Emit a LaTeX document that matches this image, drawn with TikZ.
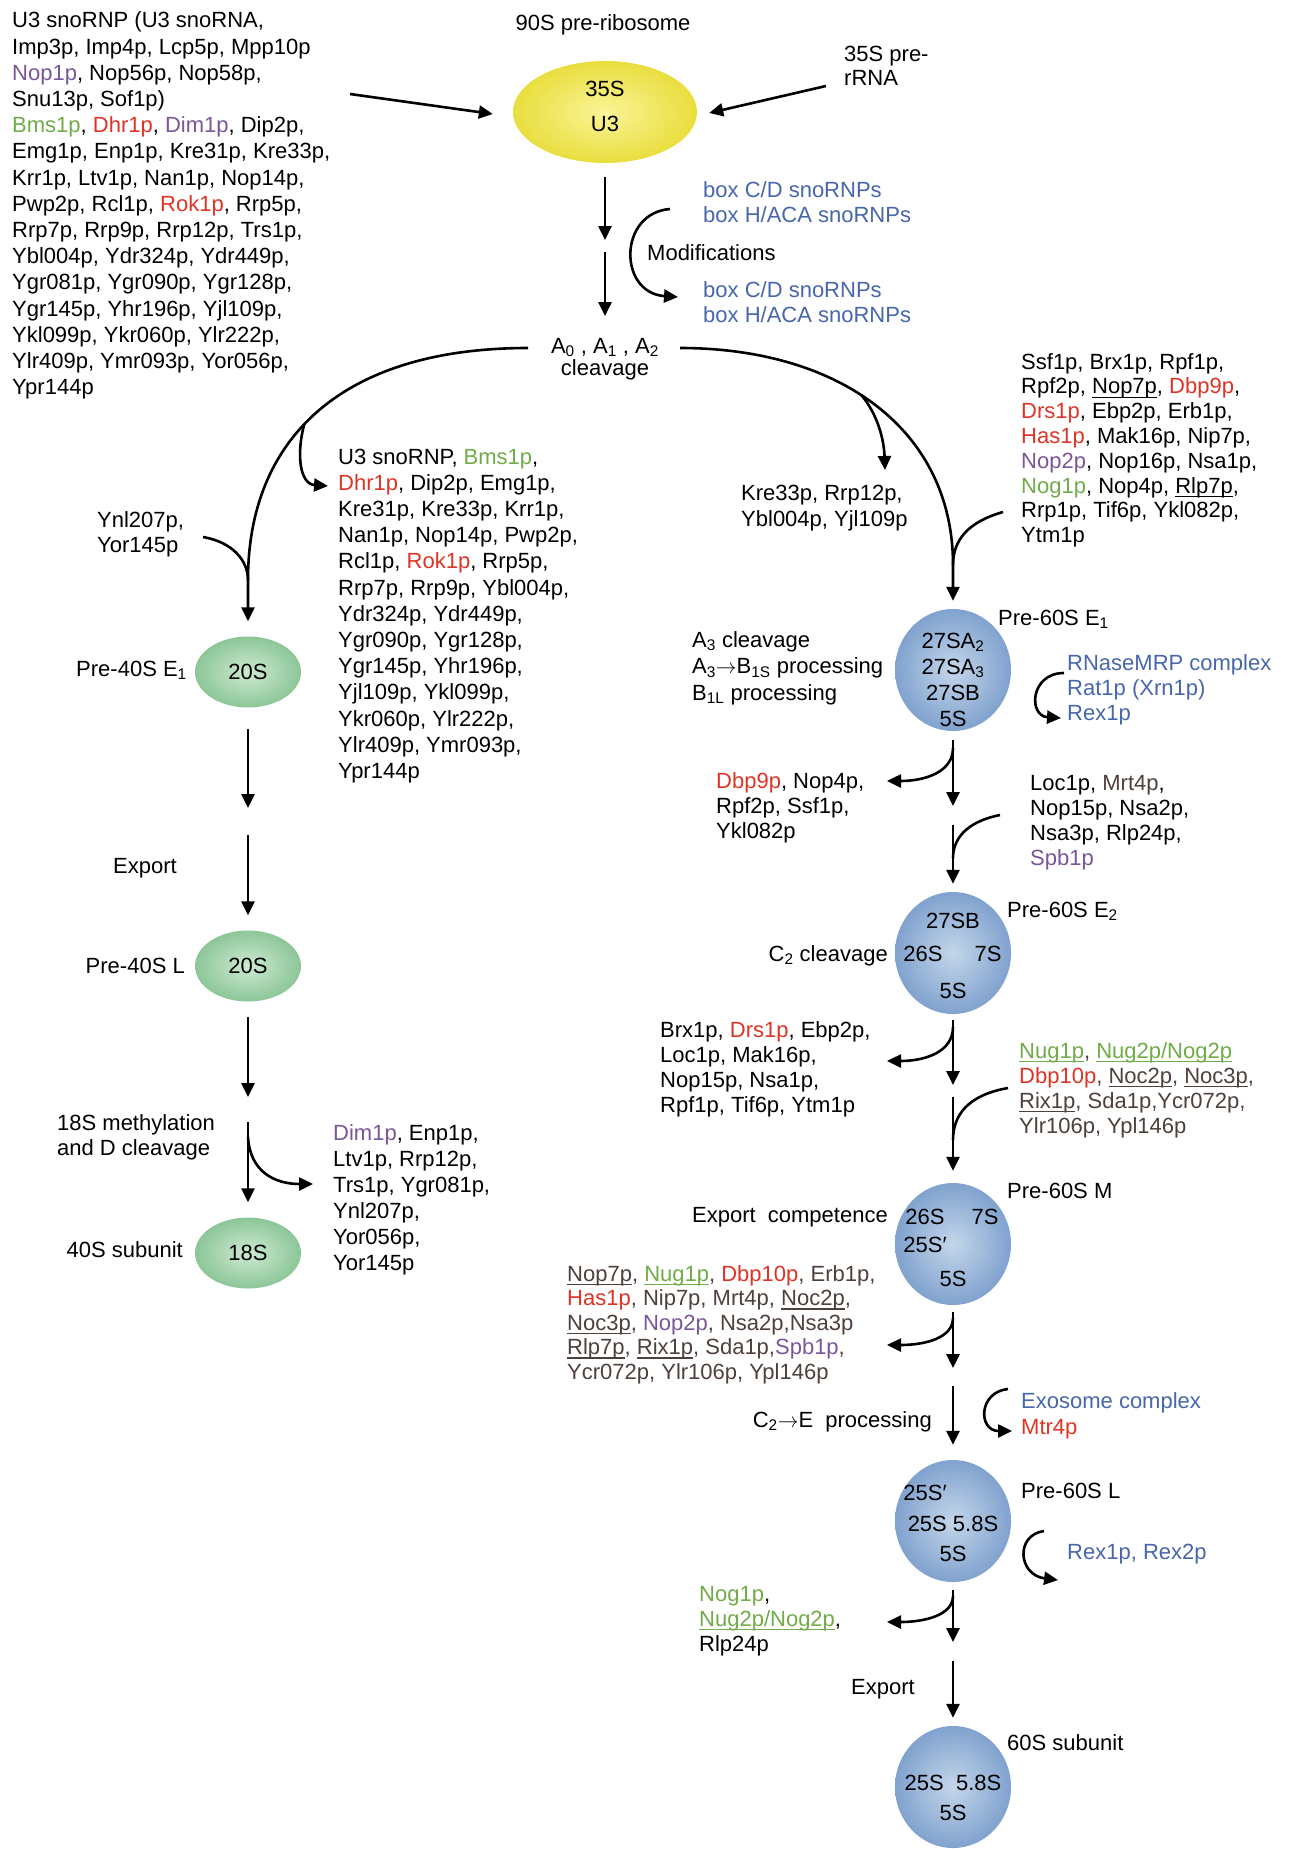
\documentclass[tikz,border=0pt]{standalone}
\usepackage{fontspec}
\setmainfont{Liberation Sans}
\usetikzlibrary{arrows.meta,shapes.geometric,calc}

\definecolor{cred}{RGB}{222,52,38}
\definecolor{cgrn}{RGB}{112,172,72}
\definecolor{cpur}{RGB}{122,86,152}
\definecolor{cblu}{RGB}{72,102,172}
\definecolor{cbrn}{RGB}{78,64,58}
\definecolor{yelout}{RGB}{233,222,62}
\definecolor{yelin}{RGB}{250,244,150}
\definecolor{bluout}{RGB}{128,162,206}
\definecolor{bluin}{RGB}{196,214,234}
\definecolor{grnout}{RGB}{140,198,152}
\definecolor{grnin}{RGB}{206,234,210}

\newcommand\cRed[1]{\textcolor{cred}{#1}}
\newcommand\cGrn[1]{\textcolor{cgrn}{#1}}
\newcommand\cPur[1]{\textcolor{cpur}{#1}}
\newcommand\cBrn[1]{\textcolor{cbrn}{#1}}
\newsavebox\ulbox
% underline set just below the baseline, through the descenders
\newcommand\uln[1]{\sbox\ulbox{#1}\rlap{\rule[-4pt]{\wd\ulbox}{1.2pt}}\usebox\ulbox}
\newcommand\rarr{\ensuremath{\rightarrow}}
\newcommand\lstL[2]{\fontsize{22}{#1}\selectfont\begin{tabular}[t]{@{}l@{}}#2\end{tabular}}
\newcommand\lstC[2]{\fontsize{22}{#1}\selectfont\begin{tabular}[t]{@{}c@{}}#2\end{tabular}}
\newcommand\sub[1]{\textsubscript{#1}}

\begin{document}
\begin{tikzpicture}[x=1pt,y=-1pt,
  txt/.style={inner sep=0pt, font=\fontsize{22}{25}\selectfont},
  arr/.style={line width=2.6pt, -{Triangle[length=14pt,width=13pt]}},
  ln/.style={line width=2.6pt},
  yel/.style={ellipse, minimum width=184pt, minimum height=102pt, inner sep=0pt,
              inner color=yelin, outer color=yelout},
  grn/.style={ellipse, minimum width=106pt, minimum height=71pt, inner sep=0pt,
              inner color=grnin, outer color=grnout, font=\fontsize{22}{25}\selectfont},
  blu/.style={ellipse, minimum width=116pt, minimum height=122pt, inner sep=0pt,
              inner color=bluin, outer color=bluout}]

\fill[white] (0,0) rectangle (1295,1849);
\useasboundingbox (0,0) rectangle (1295,1849);

% ---------- 90S pre-ribosome ----------
\node[txt,anchor=base] (t90) at (603,31) {90S pre-ribosome};
\node[yel] (p90) at (605,112) {};
\node[txt,anchor=base] (p90t) at (605,97) {\lstC{35}{35S\\U3}};

\node[txt,anchor=base west] (ulist) at (12,28) {\lstL{26.2}{%
U3 snoRNP (U3 snoRNA,\\
Imp3p, Imp4p, Lcp5p, Mpp10p\\
\cPur{Nop1p}, Nop56p, Nop58p,\\
Snu13p, Sof1p)\\
\cGrn{Bms1p}, \cRed{Dhr1p}, \cPur{Dim1p}, Dip2p,\\
Emg1p, Enp1p, Kre31p, Kre33p,\\
Krr1p, Ltv1p, Nan1p, Nop14p,\\
Pwp2p, Rcl1p, \cRed{Rok1p}, Rrp5p,\\
Rrp7p, Rrp9p, Rrp12p, Trs1p,\\
Ybl004p, Ydr324p, Ydr449p,\\
Ygr081p, Ygr090p, Ygr128p,\\
Ygr145p, Yhr196p, Yjl109p,\\
Ykl099p, Ykr060p, Ylr222p,\\
Ylr409p, Ymr093p, Yor056p,\\
Ypr144p}};
\coordinate (uo) at (350,94);
\draw[arr] (uo) -- ([xshift=-20pt,yshift=-2pt]p90.west);

\node[txt,anchor=base west] (r35) at (844,62) {\lstL{24}{35S pre-\\rRNA}};
\coordinate (r35o) at (826,86);
\draw[arr] (r35o) -- ([xshift=12pt,yshift=-1pt]p90.east);

% ---------- modifications ----------
\coordinate (vb1) at (605,240);
\coordinate (va2) at (605,252);
\coordinate (vb2) at (605,316);
\draw[arr] ([yshift=-14pt]p90.south) -- (vb1);
\draw[arr] (va2) -- (vb2);
\coordinate (ma) at (670,209);
\coordinate (mb) at (678,297);
\draw[arr] (ma) .. controls (618,213) and (618,293) .. (mb);
\node[txt,anchor=base west,text=cblu] (bx1) at (703,197) {\lstL{25}{box C/D snoRNPs\\box H/ACA snoRNPs}};
\node[txt,anchor=base west] (mod) at (647,260) {Modifications};
\node[txt,anchor=base west,text=cblu] (bx2) at (703,297) {\lstL{25}{box C/D snoRNPs\\box H/ACA snoRNPs}};

\node[txt,anchor=base] (acl) at (605,353) {\lstC{21}{A\sub{0} , A\sub{1} , A\sub{2}\\cleavage}};

% ---------- 40S branch ----------
\node[grn] (g1) at (248,672) {20S};
\node[grn] (g2) at (248,966) {20S};
\node[grn] (g3) at (248,1253) {18S};

\coordinate (la) at (528,348);
\coordinate (lj) at (248,580);
\draw[arr] (la) .. controls (340,348) and (248,440) .. (lj) coordinate[pos=.55] (lbr)
  -- ([yshift=15pt]g1.north);
\coordinate (lbt) at (328,486);
\draw[arr] (lbr) .. controls (296,455) and (300,484) .. (lbt);

\node[txt,anchor=base west] (mlist) at (338,464) {\lstL{26.2}{%
U3 snoRNP, \cGrn{Bms1p},\\
\cRed{Dhr1p}, Dip2p, Emg1p,\\
Kre31p, Kre33p, Krr1p,\\
Nan1p, Nop14p, Pwp2p,\\
Rcl1p, \cRed{Rok1p}, Rrp5p,\\
Rrp7p, Rrp9p, Ybl004p,\\
Ydr324p, Ydr449p,\\
Ygr090p, Ygr128p,\\
Ygr145p, Yhr196p,\\
Yjl109p, Ykl099p,\\
Ykr060p, Ylr222p,\\
Ylr409p, Ymr093p,\\
Ypr144p}};

\node[txt,anchor=base west] (ynl) at (97,527) {\lstL{25}{Ynl207p,\\Yor145p}};
\coordinate (ynlo) at (203,537);
\draw[ln] (ynlo) .. controls (232,542) and (248,560) .. (lj);

\node[txt,anchor=base east] (lE1) at (187,676) {Pre-40S E\sub{1}};
\coordinate (c40a) at (248,808);
\coordinate (c40b) at (248,835);
\draw[arr] ([yshift=-21pt]g1.south) -- (c40a);
\draw[arr] (c40b) -- ([yshift=15pt]g2.north);
\node[txt,anchor=base] (exl) at (145,873) {Export};
\node[txt,anchor=base east] (lL) at (185,973) {Pre-40S L};

\coordinate (c40c) at (248,1097);
\coordinate (c40d) at (248,1122);
\draw[arr] ([yshift=-15pt]g2.south) -- (c40c);
\draw[arr] (c40d) -- ([yshift=15pt]g3.north);
\coordinate (d1) at (248,1137);
\coordinate (d2) at (313,1184);
\draw[arr] (d1) .. controls (250,1172) and (275,1184) .. (d2);
\node[txt,anchor=base west] (meth) at (57,1130) {\lstL{25}{18S methylation\\and D cleavage}};
\node[txt,anchor=base east] (l40) at (183,1257) {40S subunit};
\node[txt,anchor=base west] (dlist) at (333,1140) {\lstL{26}{%
\cPur{Dim1p}, Enp1p,\\
Ltv1p, Rrp12p,\\
Trs1p, Ygr081p,\\
Ynl207p,\\
Yor056p,\\
Yor145p}};

% ---------- 60S branch ----------
\node[blu] (b1) at (953,670) {};
\node[blu] (b2) at (953,953) {};
\node[blu] (b3) at (953,1244) {};
\node[blu] (b4) at (953,1521) {};
\node[blu] (b5) at (953,1787) {};

\coordinate (ra) at (680,348);
\coordinate (rj) at (953,565);
\draw[arr] (ra) .. controls (840,348) and (953,430) .. (rj) coordinate[pos=.45] (rbr)
  -- ([yshift=8pt]b1.north);
\coordinate (kt) at (885,470);
\draw[arr] (rbr) .. controls (878,415) and (884,440) .. (kt);
\node[txt,anchor=base west] (klist) at (741,500) {\lstL{26}{Kre33p, Rrp12p,\\Ybl004p, Yjl109p}};

\node[txt,anchor=base west] (slist) at (1021,369) {\lstL{24.8}{%
Ssf1p, Brx1p, Rpf1p,\\
Rpf2p, \uln{Nop7p}, \cRed{Dbp9p},\\
\cRed{Drs1p}, Ebp2p, Erb1p,\\
\cRed{Has1p}, Mak16p, Nip7p,\\
\cPur{Nop2p}, Nop16p, Nsa1p,\\
\cGrn{Nog1p}, Nop4p, \uln{Rlp7p},\\
Rrp1p, Tif6p, Ykl082p,\\
Ytm1p}};
\coordinate (sso) at (1003,512);
\draw[ln] (sso) .. controls (968,522) and (953,540) .. (rj);

% Pre-60S E1
\node[txt,anchor=base] (b1t) at (953,648) {\lstC{26}{27SA\sub{2}\\27SA\sub{3}\\27SB\\5S}};
\node[txt,anchor=base west] (lb1) at (998,625) {Pre-60S E\sub{1}};
\node[txt,anchor=base west] (a3) at (692,647) {\lstL{26.5}{%
A\sub{3} cleavage\\
A\sub{3}\rarr B\sub{1S} processing\\
B\sub{1L} processing}};
\node[txt,anchor=base west,text=cblu] (rn) at (1067,670) {\lstL{25}{RNaseMRP complex\\Rat1p (Xrn1p)\\Rex1p}};
\coordinate (rna) at (1064,673);
\coordinate (rnb) at (1061,718);
\draw[arr] (rna) .. controls (1030,673) and (1028,716) .. (rnb);

\coordinate (s1b) at (953,806);
\draw[arr] ([yshift=-9pt]b1.south) -- (s1b);
\coordinate (s1r) at (953,748);
\coordinate (s1t) at (887,781);
\draw[arr] (s1r) .. controls (953,772) and (925,781) .. (s1t);
\node[txt,anchor=base west] (dblist) at (716,788) {\lstL{25}{%
\cRed{Dbp9p}, Nop4p,\\
Rpf2p, Ssf1p,\\
Ykl082p}};

\coordinate (s2a) at (953,825);
\coordinate (s2j) at (953,858);
\draw[arr] (s2a) -- ([yshift=8pt]b2.north);
\coordinate (s2o) at (1000,815);
\draw[ln] (s2o) .. controls (965,822) and (953,840) .. (s2j);
\node[txt,anchor=base west] (loc) at (1030,790) {\lstL{25.3}{%
Loc1p, \cBrn{Mrt4p},\\
Nop15p, Nsa2p,\\
Nsa3p, Rlp24p,\\
\cPur{Spb1p}}};

% Pre-60S E2
\node[txt,anchor=base] (b2a) at (953,928) {27SB};
\node[txt,anchor=base] (b2b) at (923,961) {26S};
\node[txt,anchor=base] (b2c) at (988,961) {7S};
\node[txt,anchor=base] (b2d) at (953,998) {5S};
\node[txt,anchor=base west] (lb2) at (1007,917) {Pre-60S E\sub{2}};
\node[txt,anchor=base east] (c2c) at (888,961) {C\sub{2} cleavage};

\coordinate (s3b) at (953,1085);
\draw[arr] ([yshift=-6pt]b2.south) -- (s3b);
\coordinate (s3r) at (953,1027);
\coordinate (s3t) at (887,1061);
\draw[arr] (s3r) .. controls (953,1052) and (925,1061) .. (s3t);
\node[txt,anchor=base west] (brx) at (660,1037) {\lstL{25}{%
Brx1p, \cRed{Drs1p}, Ebp2p,\\
Loc1p, Mak16p,\\
Nop15p, Nsa1p,\\
Rpf1p, Tif6p, Ytm1p}};

\coordinate (s4a) at (953,1097);
\coordinate (s4j) at (953,1140);
\draw[arr] (s4a) -- ([yshift=12pt]b3.north);
\coordinate (s4o) at (1008,1088);
\draw[ln] (s4o) .. controls (968,1095) and (953,1115) .. (s4j);
\node[txt,anchor=base west,text=cbrn] (nug) at (1019,1058) {\lstL{25}{%
\cGrn{\uln{Nug1p}}, \cGrn{\uln{Nug2p/Nog2p}}\\
\cRed{Dbp10p}, \uln{Noc2p}, \uln{Noc3p},\\
\uln{Rix1p}, Sda1p,Ycr072p,\\
Ylr106p, Ypl146p}};

% Pre-60S M
\node[txt,anchor=base] (b3a) at (925,1224) {26S};
\node[txt,anchor=base] (b3b) at (985,1224) {7S};
\node[txt,anchor=base] (b3c) at (925,1252) {25S′};
\node[txt,anchor=base] (b3d) at (953,1286) {5S};
\node[txt,anchor=base west] (lb3) at (1007,1198) {Pre-60S M};
\node[txt,anchor=base east] (expc) at (888,1222) {Export\ \ competence};

\coordinate (s5b) at (953,1368);
\draw[arr] ([yshift=-7pt]b3.south) -- (s5b);
\coordinate (s5r) at (953,1318);
\coordinate (s5t) at (887,1345);
\draw[arr] (s5r) .. controls (953,1338) and (925,1345) .. (s5t);
\node[txt,anchor=base west,text=cbrn] (mlst) at (567,1281) {\lstL{24.5}{%
\uln{Nop7p}, \cGrn{\uln{Nug1p}}, \cRed{Dbp10p}, Erb1p,\\
\cRed{Has1p}, Nip7p, Mrt4p, \uln{Noc2p},\\
\uln{Noc3p}, \cPur{Nop2p}, Nsa2p,Nsa3p\\
\uln{Rlp7p}, \uln{Rix1p}, Sda1p,\cPur{Spb1p},\\
Ycr072p, Ylr106p, Ypl146p}};

\coordinate (s6a) at (953,1386);
\draw[arr] (s6a) -- ([yshift=15pt]b4.north);
\coordinate (exa) at (1008,1389);
\coordinate (exb) at (1012,1431);
\draw[arr] (exa) .. controls (978,1392) and (978,1431) .. (exb);
\node[txt,anchor=base west] (exo) at (1021,1408) {\lstL{26}{\textcolor{cblu}{Exosome complex}\\\cRed{Mtr4p}}};
\node[txt,anchor=base east] (c2e) at (932,1427) {C\sub{2}\rarr E\ \ processing};

% Pre-60S L
\node[txt,anchor=base] (b4a) at (925,1500) {25S′};
\node[txt,anchor=base] (b4b) at (953,1531) {25S 5.8S};
\node[txt,anchor=base] (b4c) at (953,1561) {5S};
\node[txt,anchor=base west] (lb4) at (1021,1498) {Pre-60S L};
\coordinate (rxa) at (1044,1531);
\coordinate (rxb) at (1058,1580);
\draw[arr] (rxa) .. controls (1015,1535) and (1018,1575) .. (rxb);
\node[txt,anchor=base west,text=cblu] (rex) at (1067,1559) {Rex1p, Rex2p};

\coordinate (s7b) at (953,1642);
\draw[arr] ([yshift=-8pt]b4.south) -- (s7b);
\coordinate (s7r) at (953,1596);
\coordinate (s7t) at (887,1622);
\draw[arr] (s7r) .. controls (953,1615) and (925,1622) .. (s7t);
\node[txt,anchor=base west] (nog) at (699,1601) {\lstL{25}{%
\cGrn{Nog1p},\\
\cGrn{\uln{Nug2p/Nog2p}},\\
Rlp24p}};

\coordinate (s8a) at (953,1661);
\draw[arr] (s8a) -- ([yshift=8pt]b5.north);
\node[txt,anchor=base east] (ex60) at (915,1694) {Export};

% 60S subunit
\node[txt,anchor=base west] (lb5) at (1007,1750) {60S subunit};
\node[txt,anchor=base] (b5a) at (953,1790) {25S\ \ 5.8S};
\node[txt,anchor=base] (b5b) at (953,1820) {5S};
\end{tikzpicture}
\end{document}
